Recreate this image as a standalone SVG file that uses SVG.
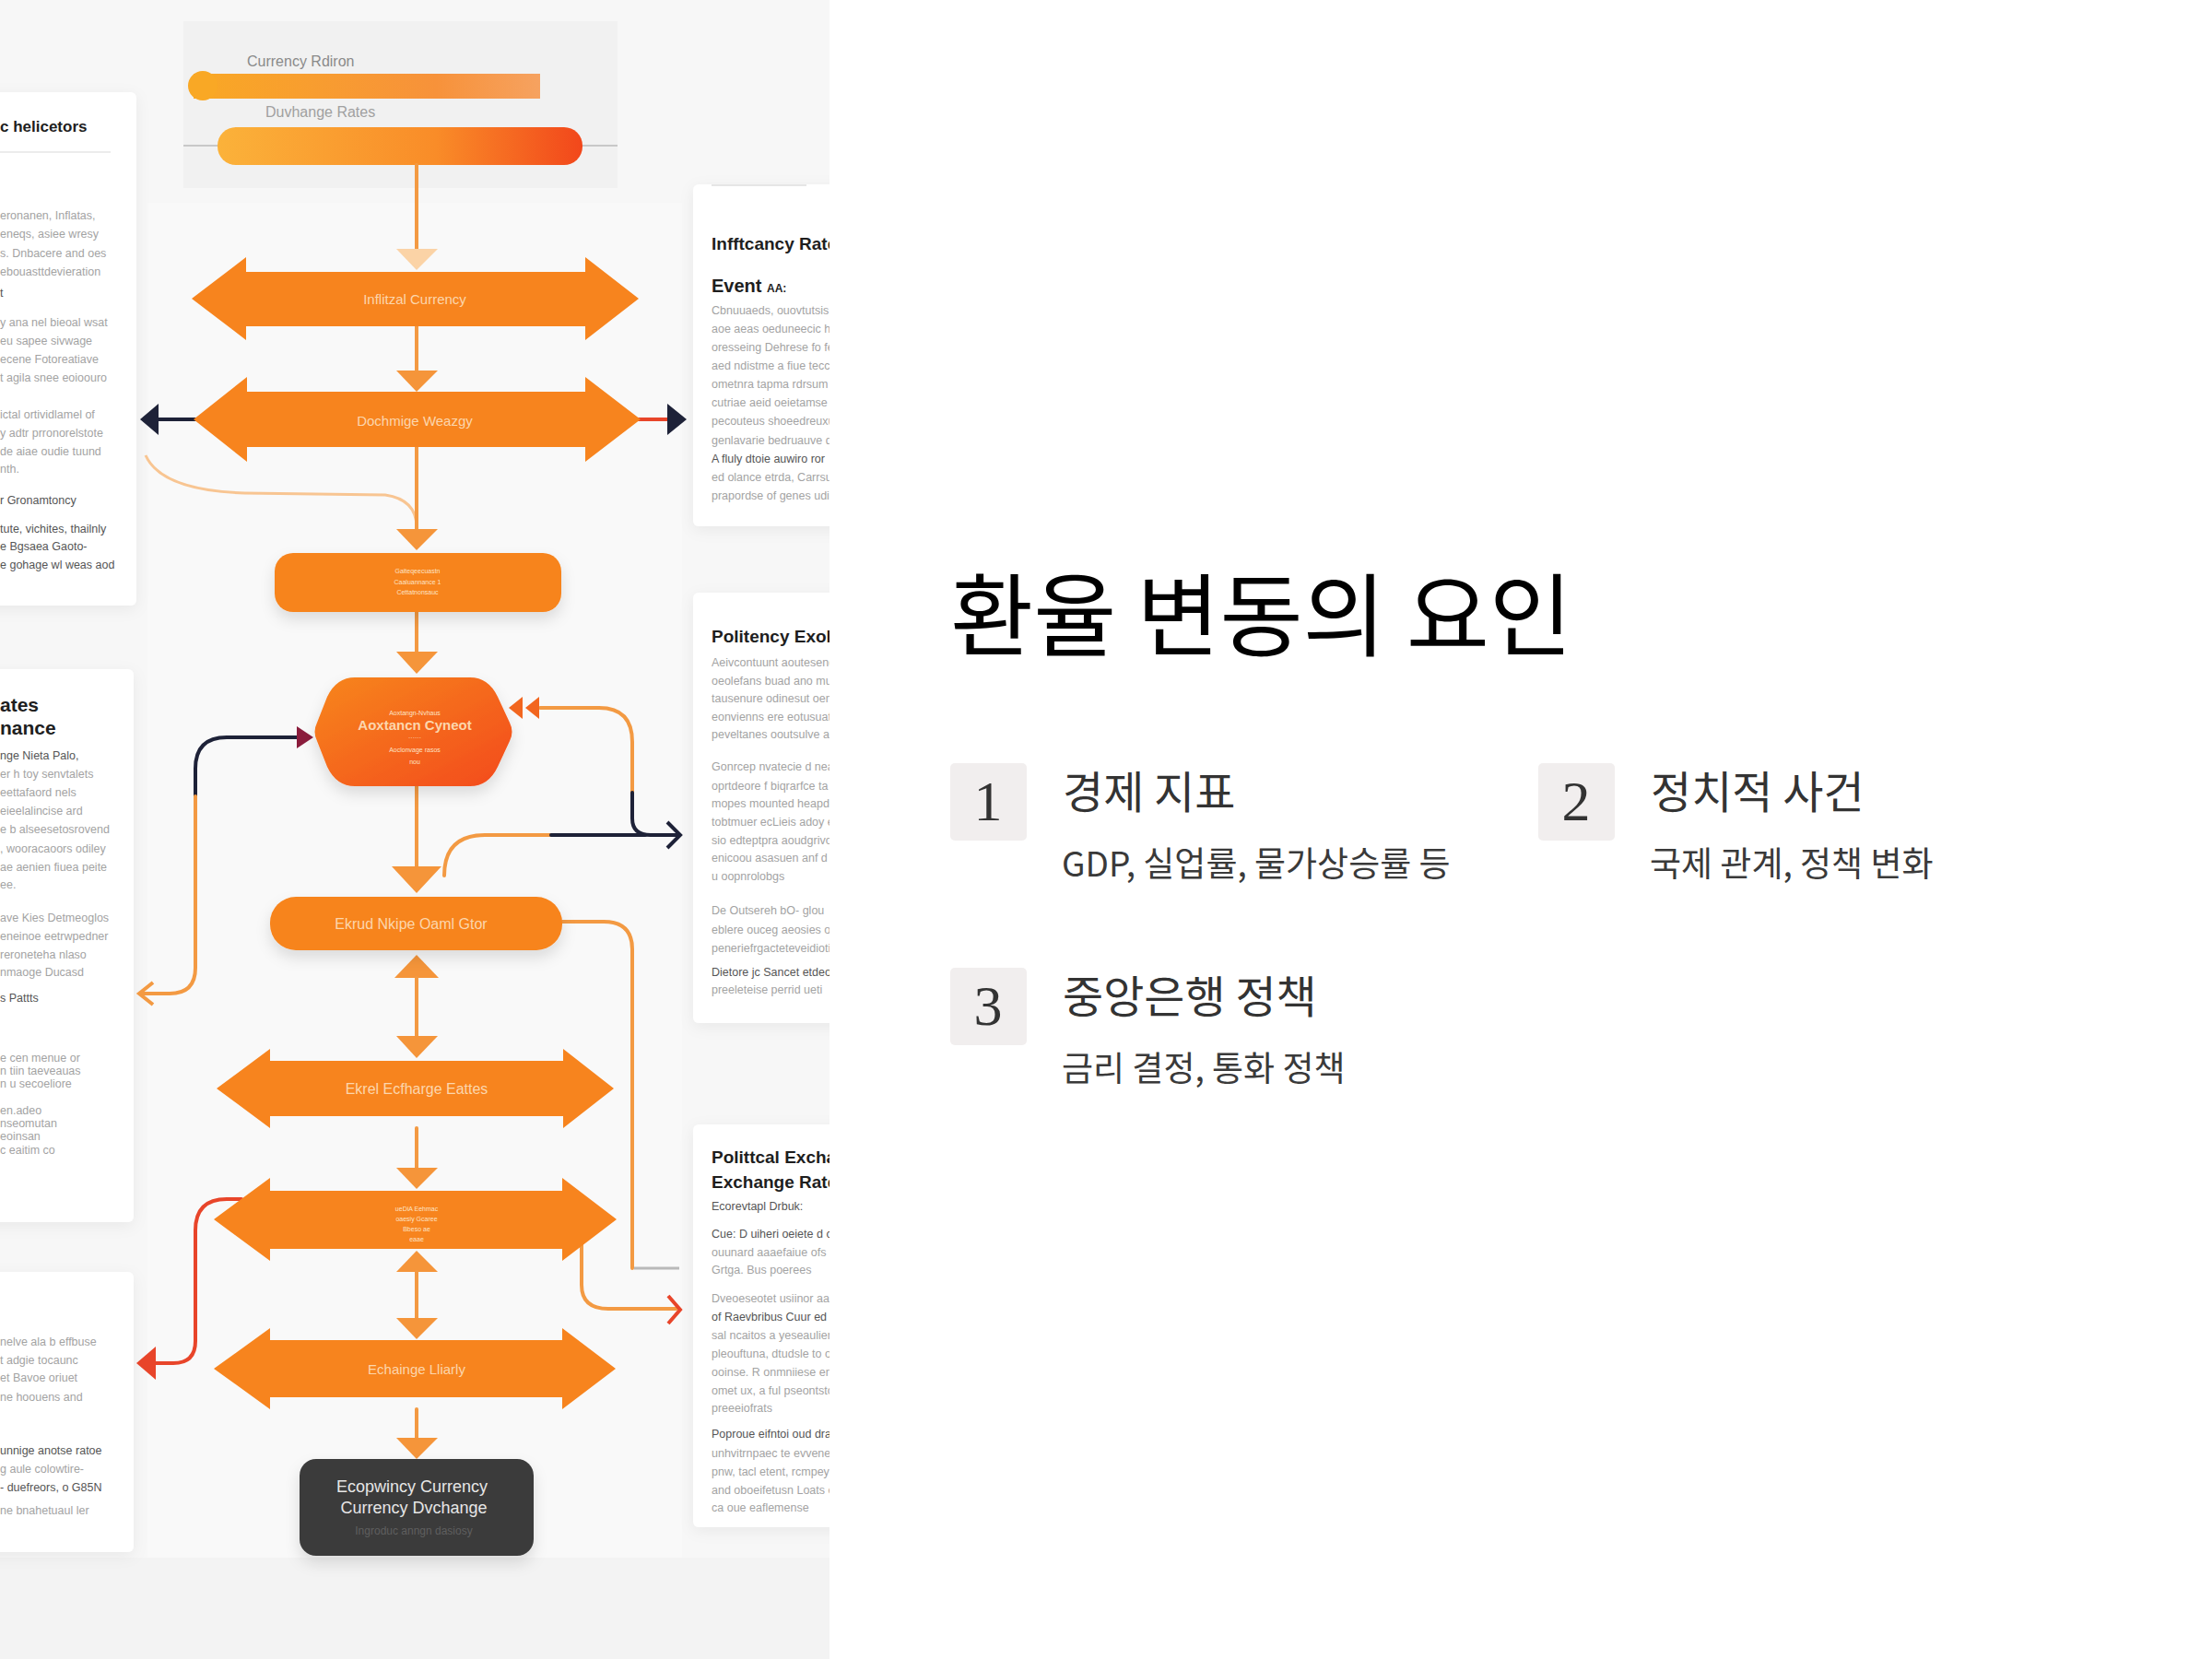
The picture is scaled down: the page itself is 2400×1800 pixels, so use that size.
<svg xmlns="http://www.w3.org/2000/svg" width="2400" height="1800" viewBox="0 0 2400 1800">
<defs>
<style>
.p{font-family:"Liberation Sans",Arial,sans-serif;font-size:12.5px;fill:#a3a3a3}
.pd{fill:#555}
.hb{font-family:"Liberation Sans",Arial,sans-serif;font-weight:bold;fill:#1e1e1e}
.lbl{font-family:"Liberation Sans",Arial,sans-serif;fill:#fcd6ad;text-anchor:middle}
.tiny{font-family:"Liberation Sans",Arial,sans-serif;font-size:7px;fill:#fde3c6;text-anchor:middle}
.con{fill:none;stroke:#f39a43;stroke-width:4;stroke-linecap:round}
.navy{fill:none;stroke:#1e2238;stroke-width:4;stroke-linecap:round}
.red{fill:none;stroke:#e8452a;stroke-width:4;stroke-linecap:round}
.ah{fill:#f5953a}
.node{fill:#f7841e}
.card{fill:#ffffff;filter:url(#sh)}
.kr{font-family:"Noto Sans CJK KR","Noto Sans",sans-serif}
.num{font-family:"Liberation Serif","Times New Roman",serif;font-size:62px;fill:#333;text-anchor:middle}
.box{fill:#f1eeee}
.sub{font-size:37px;fill:#3a3a3a}
.head{font-size:48px;fill:#333}
</style>
<filter id="sh" x="-20%" y="-20%" width="140%" height="140%"><feDropShadow dx="0" dy="4" stdDeviation="8" flood-color="#000" flood-opacity="0.06"/></filter>
<filter id="sh2" x="-20%" y="-20%" width="140%" height="160%"><feDropShadow dx="0" dy="8" stdDeviation="8" flood-color="#000" flood-opacity="0.12"/></filter>
<linearGradient id="g1" x1="0" y1="0" x2="1" y2="0"><stop offset="0" stop-color="#f9a825"/><stop offset="0.7" stop-color="#f7923a"/><stop offset="1" stop-color="#f6a260"/></linearGradient>
<linearGradient id="g2" x1="0" y1="0" x2="1" y2="0"><stop offset="0" stop-color="#fbb23a"/><stop offset="0.6" stop-color="#f98c28"/><stop offset="1" stop-color="#f2471b"/></linearGradient>
<linearGradient id="gb" x1="0" y1="0" x2="1" y2="1"><stop offset="0" stop-color="#f7861e"/><stop offset="1" stop-color="#f34a1c"/></linearGradient>
<clipPath id="clip"><rect x="0" y="0" width="900" height="1800"/></clipPath>
</defs>
<rect x="0" y="0" width="2400" height="1800" fill="#ffffff"/>

<g id="illustration" clip-path="url(#clip)">
<rect x="0" y="0" width="900" height="1800" fill="#f7f7f7"/>
<rect x="0" y="1690" width="900" height="110" fill="#f3f3f3"/>
<rect x="160" y="220" width="580" height="1470" fill="#f9f9f9"/>

<!-- cards -->
<g id="card-left-1">
<rect class="card" x="-20" y="100" width="168" height="557" rx="6"/>
<text class="hb" x="0" y="143" font-size="17">c helicetors</text>
<line x1="0" y1="165" x2="120" y2="165" stroke="#ececec" stroke-width="2"/>
<text class="p" x="0" y="238">eronanen, Inflatas,</text>
<text class="p" x="0" y="258">eneqs, asiee wresy</text>
<text class="p" x="0" y="279">s. Dnbacere and oes</text>
<text class="p" x="0" y="299">ebouasttdevieration</text>
<text class="p pd" x="0" y="322">t</text>
<text class="p" x="0" y="354">y ana nel bieoal wsat</text>
<text class="p" x="0" y="374">eu sapee sivwage</text>
<text class="p" x="0" y="394">ecene Fotoreatiave</text>
<text class="p" x="0" y="414">t agila snee eoioouro</text>
<text class="p" x="0" y="454">ictal ortividlamel of</text>
<text class="p" x="0" y="474">y adtr prronorelstote</text>
<text class="p" x="0" y="494">de aiae oudie tuund</text>
<text class="p" x="0" y="513">nth.</text>
<text class="p pd" x="0" y="547">r Gronamtoncy</text>
<text class="p pd" x="0" y="578">tute, vichites, thailnly</text>
<text class="p pd" x="0" y="597">e Bgsaea Gaoto-</text>
<text class="p pd" x="0" y="617">e gohage wl weas aod</text>
</g>
<g id="card-left-2">
<rect class="card" x="-20" y="726" width="165" height="600" rx="6"/>
<text class="hb" x="0" y="772" font-size="21">ates</text>
<text class="hb" x="0" y="797" font-size="21">nance</text>
<text class="p pd" x="0" y="824">nge Nieta Palo,</text>
<text class="p" x="0" y="844">er h toy senvtalets</text>
<text class="p" x="0" y="864">eettafaord nels</text>
<text class="p" x="0" y="884">eieelalincise ard</text>
<text class="p" x="0" y="904">e b alseesetosrovend</text>
<text class="p" x="0" y="925">, wooracaoors odiley</text>
<text class="p" x="0" y="945">ae aenien fiuea peite</text>
<text class="p" x="0" y="964">ee.</text>
<text class="p" x="0" y="1000">ave Kies Detmeoglos</text>
<text class="p" x="0" y="1020">eneinoe eetrwpedner</text>
<text class="p" x="0" y="1040">reroneteha nlaso</text>
<text class="p" x="0" y="1059">nmaoge Ducasd</text>
<text class="p pd" x="0" y="1087">s Pattts</text>
<text class="p" x="0" y="1152" fill="#c4c4c4">e cen menue or</text>
<text class="p" x="0" y="1166" fill="#c4c4c4">n tiin taeveauas</text>
<text class="p" x="0" y="1180" fill="#c4c4c4">n u secoeliore</text>
<text class="p" x="0" y="1209" fill="#c4c4c4">en.adeo</text>
<text class="p" x="0" y="1223" fill="#c4c4c4">nseomutan</text>
<text class="p" x="0" y="1237" fill="#c4c4c4">eoinsan</text>
<text class="p" x="0" y="1252" fill="#c4c4c4">c eaitim co</text>
</g>
<g id="card-left-3">
<rect class="card" x="-20" y="1380" width="165" height="304" rx="6"/>
<text class="p" x="0" y="1460">nelve ala b effbuse</text>
<text class="p" x="0" y="1480">t adgie tocaunc</text>
<text class="p" x="0" y="1499">et Bavoe oriuet</text>
<text class="p" x="0" y="1520">ne hoouens and</text>
<text class="p pd" x="0" y="1578">unnige anotse ratoe</text>
<text class="p" x="0" y="1598">g aule colowtire-</text>
<text class="p pd" x="0" y="1618">- duefreors, o G85N</text>
<text class="p" x="0" y="1643">ne bnahetuaul ler</text>
</g>
<g id="card-right-1">
<rect class="card" x="752" y="200" width="170" height="371" rx="6"/>
<line x1="772" y1="201" x2="875" y2="201" stroke="#e6e6e6" stroke-width="2"/>
<text class="hb" x="772" y="271" font-size="19">Infftcancy Rates</text>
<text class="hb" x="772" y="317" font-size="20">Event <tspan font-size="12">AA:</tspan></text>
<text class="p" x="772" y="341">Cbnuuaeds, ouovtutsis,</text>
<text class="p" x="772" y="361">aoe aeas oeduneecic hu</text>
<text class="p" x="772" y="381">oresseing Dehrese fo fe</text>
<text class="p" x="772" y="401">aed ndistme a fiue tecco</text>
<text class="p" x="772" y="421">ometnra tapma rdrsum</text>
<text class="p" x="772" y="441">cutriae aeid oeietamse</text>
<text class="p" x="772" y="461">pecouteus shoeedreuxu</text>
<text class="p" x="772" y="482">genlavarie bedruauve du</text>
<text class="p pd" x="772" y="502">A fluly dtoie auwiro ror</text>
<text class="p" x="772" y="522">ed olance etrda, Carrsuc</text>
<text class="p" x="772" y="542">prapordse of genes udi</text>
</g>
<g id="card-right-2">
<rect class="card" x="752" y="643" width="170" height="467" rx="6"/>
<text class="hb" x="772" y="697" font-size="19">Politency Exoh</text>
<text class="p" x="772" y="723">Aeivcontuunt aoutesend</text>
<text class="p" x="772" y="743">oeolefans buad ano mu</text>
<text class="p" x="772" y="762">tausenure odinesut oen</text>
<text class="p" x="772" y="782">eonvienns ere eotusuatiot</text>
<text class="p" x="772" y="801">peveltanes ooutsulve ao</text>
<text class="p" x="772" y="836">Gonrcep nvatecie d neag</text>
<text class="p" x="772" y="857">oprtdeore f biqrarfce ta</text>
<text class="p" x="772" y="876">mopes mounted heapdo</text>
<text class="p" x="772" y="896">tobtmuer ecLieis adoy es</text>
<text class="p" x="772" y="916">sio edteptpra aoudgrivo</text>
<text class="p" x="772" y="935">enicoou asasuen anf d An</text>
<text class="p" x="772" y="955">u oopnrolobgs</text>
<text class="p" x="772" y="992">De Outsereh bO- glou</text>
<text class="p" x="772" y="1013">eblere ouceg aeosies oa</text>
<text class="p" x="772" y="1033">peneriefrgacteteveidiotio</text>
<text class="p pd" x="772" y="1059">Dietore jc Sancet etdeon a</text>
<text class="p" x="772" y="1078">preeleteise perrid ueti</text>
</g>
<g id="card-right-3">
<rect class="card" x="752" y="1220" width="170" height="437" rx="6"/>
<text class="hb" x="772" y="1262" font-size="19">Polittcal Exchar</text>
<text class="hb" x="772" y="1289" font-size="19">Exchange Rates</text>
<text class="p pd" x="772" y="1313" font-size="12">Ecorevtapl Drbuk:</text>
<text class="p pd" x="772" y="1343">Cue: D uiheri oeiete d ci</text>
<text class="p" x="772" y="1363">ouunard aaaefaiue ofs</text>
<text class="p" x="772" y="1382">Grtga. Bus poerees</text>
<text class="p" x="772" y="1413">Dveoeseotet usiinor aa</text>
<text class="p pd" x="772" y="1433">of Raevbribus Cuur ed Ou</text>
<text class="p" x="772" y="1453">sal ncaitos a yeseaulien</text>
<text class="p" x="772" y="1473">pleouftuna, dtudsle to or</text>
<text class="p" x="772" y="1493">ooinse. R onmniiese ent</text>
<text class="p" x="772" y="1513">omet ux, a ful pseontsto</text>
<text class="p" x="772" y="1532">preeeiofrats</text>
<text class="p pd" x="772" y="1560">Poproue eifntoi oud dra</text>
<text class="p" x="772" y="1581">unhvitrnpaec te evveneva</text>
<text class="p" x="772" y="1601">pnw, tacl etent, rcmpey b</text>
<text class="p" x="772" y="1621">and oboeifetusn Loats ee</text>
<text class="p" x="772" y="1640">ca oue eaflemense</text>
</g>

<!-- top panel -->
<g id="top-panel">
<rect x="199" y="23" width="471" height="181" fill="#f1f1f1"/>
<line x1="199" y1="158" x2="670" y2="158" stroke="#c8c8c8" stroke-width="2"/>
<text x="268" y="72" font-family="Liberation Sans,Arial,sans-serif" font-size="16" fill="#8a8a8a">Currency Rdiron</text>
<rect x="210" y="80" width="376" height="27" fill="url(#g1)"/>
<circle cx="220" cy="93" r="16" fill="#f9a825"/>
<text x="288" y="127" font-family="Liberation Sans,Arial,sans-serif" font-size="16" fill="#a0a0a0">Duvhange Rates</text>
<rect x="236" y="138" width="396" height="41" rx="20" fill="url(#g2)"/>
</g>

<!-- connectors -->
<g id="connectors">
<line class="con" x1="452" y1="179" x2="452" y2="272" stroke-width="3"/>
<polygon points="430,270 475,270 452,293" fill="#fbd3a6"/>
<line class="con" x1="452" y1="354" x2="452" y2="405"/>
<polygon class="ah" points="430,402 475,402 452,425"/>
<path d="M158,494 Q175,532 265,535 L418,537 Q452,542 452,572" fill="none" stroke="#f8c592" stroke-width="3"/>
<line class="con" x1="452" y1="485" x2="452" y2="578"/>
<polygon class="ah" points="430,574 475,574 452,597"/>
<line class="con" x1="452" y1="664" x2="452" y2="710"/>
<polygon class="ah" points="430,707 475,707 452,731"/>
<line class="con" x1="452" y1="853" x2="452" y2="945"/>
<polygon class="ah" points="425,940 479,940 452,969"/>
<polygon class="ah" points="452,1036 428,1061 476,1061"/>
<line class="con" x1="452" y1="1061" x2="452" y2="1128"/>
<polygon class="ah" points="430,1124 475,1124 452,1148"/>
<line class="con" x1="452" y1="1224" x2="452" y2="1270"/>
<polygon class="ah" points="430,1267 475,1267 452,1290"/>
<polygon class="ah" points="452,1357 430,1380 475,1380"/>
<line class="con" x1="452" y1="1380" x2="452" y2="1433"/>
<polygon class="ah" points="430,1430 475,1430 452,1453"/>
<line class="con" x1="452" y1="1529" x2="452" y2="1563"/>
<polygon class="ah" points="430,1560 475,1560 452,1583"/>
<!-- side arrows on arrow 2 -->
<line class="navy" x1="170" y1="455" x2="214" y2="455"/>
<polygon points="152,455 172,438 172,472" fill="#1e2238"/>
<line class="red" x1="692" y1="455" x2="726" y2="455"/>
<polygon points="745,455 724,438 724,472" fill="#1e2238"/>
<!-- left loop -->
<path class="navy" d="M326,800 L246,800 Q212,800 212,834 L212,864"/>
<path class="con" d="M212,864 L212,1050 Q212,1078 184,1078 L154,1078"/>
<polyline points="166,1066 151,1078 166,1090" fill="none" stroke="#f39a43" stroke-width="4"/>
<polygon points="340,800 322,788 322,812" fill="#8b1c3c"/>
<!-- right loop -->
<path class="con" d="M586,768 L650,768 Q686,768 686,805 L686,860"/>
<path class="navy" d="M686,860 L686,888 Q686,906 706,906 L736,906"/>
<path class="con" d="M482,950 Q482,906 526,906 L598,906"/>
<line class="navy" x1="598" y1="906" x2="700" y2="906"/>
<polyline points="724,892 738,906 724,920" fill="none" stroke="#1e2238" stroke-width="4"/>
<polygon points="552,768 567,756 567,780" fill="#f2661f"/>
<polygon points="570,768 585,756 585,780" fill="#f2661f"/>
<!-- pill right connector -->
<path class="con" d="M610,1000 L655,1000 Q686,1000 686,1030 L686,1376"/>
<line x1="688" y1="1376" x2="737" y2="1376" stroke="#b9b9b9" stroke-width="3"/>
<!-- red connector left of arrow 4 -->
<path class="red" d="M262,1301 L246,1301 Q212,1301 212,1335 L212,1455 Q212,1479 188,1479 L166,1479"/>
<polygon points="148,1479 169,1461 169,1497" fill="#e8452a"/>
<!-- right connector from arrow 4 -->
<path class="con" d="M631,1350 L631,1394 Q631,1420 660,1420 L734,1420"/>
<polyline points="725,1406 738,1421 725,1436" fill="none" stroke="#e8452a" stroke-width="4"/>
</g>

<!-- nodes -->
<g id="arrow-1">
<polygon class="node" points="208,324 267,279 267,295 635,295 635,279 693,324 635,369 635,354 267,354 267,369"/>
<text class="lbl" x="450" y="330" font-size="15">Inflitzal Currency</text>
</g>
<g id="arrow-2">
<polygon class="node" points="210,455 268,409 268,425 635,425 635,409 695,455 635,501 635,485 268,485 268,501"/>
<text class="lbl" x="450" y="462" font-size="15">Dochmige Weazgy</text>
</g>
<g id="box-3">
<rect class="node" x="298" y="600" width="311" height="64" rx="20" filter="url(#sh2)"/>
<text class="tiny" x="453" y="622">Gaiteqeecuastn</text>
<text class="tiny" x="453" y="634">Caaluannance 1</text>
<text class="tiny" x="453" y="645">Cettatnonsauc</text>
</g>
<g id="blob">
<path d="M385,735 L510,735 Q530,735 540,756 L553,784 Q558,794 553,804 L540,832 Q530,853 510,853 L385,853 Q365,853 355,832 L344,804 Q339,794 344,784 L355,756 Q365,735 385,735 Z" fill="url(#gb)" filter="url(#sh2)"/>
<text class="tiny" x="450" y="776" font-size="9">Aoxtangn-Nvhaus</text>
<text class="lbl" x="450" y="792" font-size="15" font-weight="bold" fill="#fde7d2">Aoxtancn Cyneot</text>
<text class="tiny" x="450" y="803">······</text>
<text class="tiny" x="450" y="816">Aoclonvage rasos</text>
<text class="tiny" x="450" y="829">nou</text>
</g>
<g id="pill">
<rect class="node" x="293" y="973" width="317" height="58" rx="28" filter="url(#sh2)"/>
<text class="lbl" x="446" y="1008" font-size="16">Ekrud Nkipe Oaml Gtor</text>
</g>
<g id="arrow-3">
<polygon class="node" points="235,1181 293,1138 293,1151 611,1151 611,1138 666,1181 611,1224 611,1211 293,1211 293,1224"/>
<text class="lbl" x="452" y="1187" font-size="16" fill="#fde3c8">Ekrel Ecfharge Eattes</text>
</g>
<g id="arrow-4">
<polygon class="node" points="232,1323 293,1278 293,1292 610,1292 610,1278 669,1323 610,1368 610,1355 293,1355 293,1368"/>
<text class="tiny" x="452" y="1314">ueDiA Eehmac</text>
<text class="tiny" x="452" y="1325">oaesiy Gcaree</text>
<text class="tiny" x="452" y="1336">Bbeso ae</text>
<text class="tiny" x="452" y="1347">eaae</text>
</g>
<g id="arrow-5">
<polygon class="node" points="232,1485 293,1441 293,1454 610,1454 610,1441 668,1485 610,1529 610,1516 293,1516 293,1529"/>
<text class="lbl" x="452" y="1491" font-size="15">Echainge Lliarly</text>
</g>
<g id="dark-box">
<rect x="325" y="1583" width="254" height="105" rx="18" fill="#3b3b3b" filter="url(#sh2)"/>
<text x="447" y="1619" text-anchor="middle" font-family="Liberation Sans,Arial,sans-serif" font-size="18" fill="#e6e6e6">Ecopwincy Currency</text>
<text x="449" y="1642" text-anchor="middle" font-family="Liberation Sans,Arial,sans-serif" font-size="18" fill="#e6e6e6">Currency Dvchange</text>
<text x="449" y="1665" text-anchor="middle" font-family="Liberation Sans,Arial,sans-serif" font-size="12" fill="#5f5f5f">Ingroduc anngn dasiosy</text>
</g>
</g>

<!-- right side content -->
<g id="title">
<text class="kr" x="1031" y="704" font-size="98" fill="#000">환율 변동의 요인</text>
</g>
<g id="item-1">
<rect class="box" x="1031" y="828" width="83" height="84" rx="5"/>
<text class="num" x="1072" y="890">1</text>
<text class="kr head" x="1153" y="877">경제 지표</text>
<text class="kr sub" x="1152" y="951">GDP, 실업률, 물가상승률 등</text>
</g>
<g id="item-2">
<rect class="box" x="1669" y="828" width="83" height="84" rx="5"/>
<text class="num" x="1710" y="890">2</text>
<text class="kr head" x="1791" y="877">정치적 사건</text>
<text class="kr sub" x="1790" y="951">국제 관계, 정책 변화</text>
</g>
<g id="item-3">
<rect class="box" x="1031" y="1050" width="83" height="84" rx="5"/>
<text class="num" x="1072" y="1112">3</text>
<text class="kr head" x="1153" y="1099">중앙은행 정책</text>
<text class="kr sub" x="1152" y="1173">금리 결정, 통화 정책</text>
</g>
</svg>
